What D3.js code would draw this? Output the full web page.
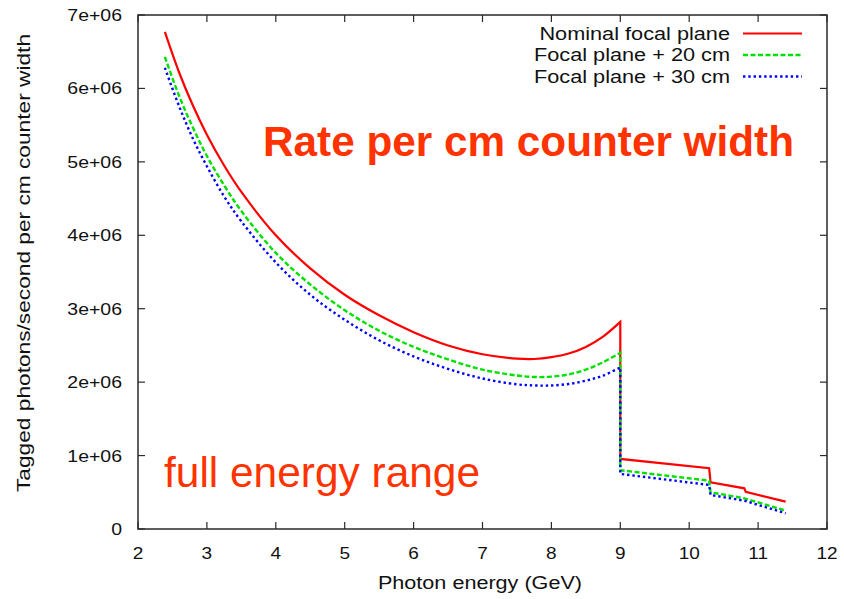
<!DOCTYPE html>
<html>
<head>
<meta charset="utf-8">
<script src="https://cdn.jsdelivr.net/npm/d3@7"></script>
<style>
  html, body { margin: 0; padding: 0; background: #fff; }
  svg { display: block; }
  text { font-family: "Liberation Sans", Arial, Helvetica, sans-serif; fill: #111; }
</style>
</head>
<body>
<svg id="chart" width="844" height="599"></svg>
<script>
// Axis ticks
const xTicks = [2, 3, 4, 5, 6, 7, 8, 9, 10, 11, 12];
const yTicks = [0, 1e6, 2e6, 3e6, 4e6, 5e6, 6e6, 7e6];
const yTickLabels = ["0", "1e+06", "2e+06", "3e+06", "4e+06", "5e+06", "6e+06", "7e+06"];

// Smooth part of each spectrum (photon energy in GeV, rate in photons/s per cm)
const energySmooth = [2.39, 2.6, 2.8, 3.0, 3.25, 3.5, 4.0, 4.5, 5.0, 5.5, 6.0, 6.5, 7.0, 7.5, 7.75, 8.0, 8.25, 8.5, 8.75, 9.0];
const rateSmoothNominal = [6.77e6, 6.21e6, 5.76e6, 5.37e6, 4.95e6, 4.59e6, 4.00e6, 3.55e6, 3.19e6, 2.91e6, 2.68e6, 2.50e6, 2.38e6, 2.32e6, 2.315e6, 2.34e6, 2.39e6, 2.48e6, 2.62e6, 2.82e6];
const rateSmooth20 = [6.43e6, 5.89e6, 5.46e6, 5.08e6, 4.68e6, 4.33e6, 3.76e6, 3.33e6, 2.98e6, 2.70e6, 2.48e6, 2.31e6, 2.17e6, 2.09e6, 2.07e6, 2.075e6, 2.105e6, 2.17e6, 2.27e6, 2.40e6];
const rateSmooth30 = [6.28e6, 5.75e6, 5.31e6, 4.94e6, 4.53e6, 4.19e6, 3.63e6, 3.19e6, 2.85e6, 2.57e6, 2.35e6, 2.18e6, 2.05e6, 1.97e6, 1.955e6, 1.955e6, 1.975e6, 2.02e6, 2.09e6, 2.20e6];

// Stepped part above 9 GeV
const energyTailNominal = [9.0, 10.29, 10.31, 10.80, 10.82, 11.40];
const rateTailNominal = [0.954e6, 0.827e6, 0.636e6, 0.554e6, 0.508e6, 0.372e6];

const energyTail20 = [9.0, 10.29, 10.31, 10.80, 11.40];
const rateTail20 = [0.80e6, 0.658e6, 0.50e6, 0.418e6, 0.25e6];

const energyTail30 = [9.0, 10.29, 10.31, 10.80, 11.40];
const rateTail30 = [0.75e6, 0.60e6, 0.463e6, 0.386e6, 0.214e6];

const seriesNames = ["Nominal focal plane", "Focal plane + 20 cm", "Focal plane + 30 cm"];

const zip = (xs, ys) => xs.map((v, i) => ({ e: v, r: ys[i] }));

const series = [
  { name: seriesNames[0], smooth: zip(energySmooth, rateSmoothNominal), tail: zip(energyTailNominal, rateTailNominal),
    color: "#ff0000", width: 2.2, dash: null },
  { name: seriesNames[1], smooth: zip(energySmooth, rateSmooth20), tail: zip(energyTail20, rateTail20),
    color: "#00e000", width: 2.4, dash: "5,2.5" },
  { name: seriesNames[2], smooth: zip(energySmooth, rateSmooth30), tail: zip(energyTail30, rateTail30),
    color: "#0000ff", width: 2.4, dash: "2.4,2.9" }
];

const svg = d3.select("#chart");
const plotLeft = 138, plotRight = 827, plotTop = 15, plotBottom = 529;

const x = d3.scaleLinear().domain([2, 12]).range([plotLeft, plotRight]);
const y = d3.scaleLinear().domain([0, 7e6]).range([plotBottom, plotTop]);

// Horizontally widen text the way the plot's fonts are drawn
function stretch(sel, k) {
  sel.each(function () {
    const w = this.getComputedTextLength();
    this.setAttribute("textLength", w * k);
    this.setAttribute("lengthAdjust", "spacingAndGlyphs");
  });
}

// Frame
svg.append("rect")
  .attr("x", plotLeft).attr("y", plotTop)
  .attr("width", plotRight - plotLeft).attr("height", plotBottom - plotTop)
  .attr("fill", "none").attr("stroke", "#2a2a2a").attr("stroke-width", 1.5);

const tickLen = 7;
const ticks = svg.append("g").attr("stroke", "#2a2a2a").attr("stroke-width", 1.2);
xTicks.forEach(t => {
  ticks.append("line").attr("x1", x(t)).attr("x2", x(t)).attr("y1", plotBottom).attr("y2", plotBottom - tickLen);
  ticks.append("line").attr("x1", x(t)).attr("x2", x(t)).attr("y1", plotTop).attr("y2", plotTop + tickLen);
});
yTicks.forEach(t => {
  ticks.append("line").attr("x1", plotLeft).attr("x2", plotLeft + tickLen).attr("y1", y(t)).attr("y2", y(t));
  ticks.append("line").attr("x1", plotRight).attr("x2", plotRight - tickLen).attr("y1", y(t)).attr("y2", y(t));
});

// Tick labels
const xLab = svg.append("g").selectAll("text").data(xTicks).join("text")
  .attr("x", d => x(d)).attr("y", 559)
  .attr("text-anchor", "middle").attr("font-size", 16.5)
  .text(d => d);
stretch(xLab, 1.15);

const yLab = svg.append("g").selectAll("text").data(yTicks).join("text")
  .attr("x", 122).attr("y", d => y(d) + 6)
  .attr("text-anchor", "end").attr("font-size", 16.5)
  .text((d, i) => yTickLabels[i]);
stretch(yLab, 1.18);

// Axis titles
const xTitle = svg.append("text")
  .attr("x", 480).attr("y", 589).attr("text-anchor", "middle").attr("font-size", 18)
  .text("Photon energy (GeV)");
stretch(xTitle, 1.2);

const yTitle = svg.append("text")
  .attr("transform", "translate(30,263) rotate(-90)")
  .attr("text-anchor", "middle").attr("font-size", 18)
  .text("Tagged photons/second per cm counter width");
yTitle.attr("textLength", 458).attr("lengthAdjust", "spacingAndGlyphs");

// Curves: smooth spectrum up to 9 GeV joined to the stepped tail
const smoothLine = d3.line().x(d => x(d.e)).y(d => y(d.r)).curve(d3.curveCatmullRom.alpha(0.5));
const tailLine = d3.line().x(d => x(d.e)).y(d => y(d.r));

series.forEach(s => {
  const path = smoothLine(s.smooth) + tailLine(s.tail).replace(/^M/, "L");
  svg.append("path")
    .attr("d", path)
    .attr("fill", "none")
    .attr("stroke", s.color)
    .attr("stroke-width", s.width)
    .attr("stroke-dasharray", s.dash)
    .attr("stroke-linejoin", "miter");
});

// Legend
const legendRows = [33.5, 55, 76.5];
series.forEach((s, i) => {
  const t = svg.append("text")
    .attr("x", 730).attr("y", legendRows[i] + 6)
    .attr("text-anchor", "end").attr("font-size", 17.5)
    .text(s.name);
  stretch(t, 1.24);
  svg.append("line")
    .attr("x1", 743).attr("x2", 802)
    .attr("y1", legendRows[i]).attr("y2", legendRows[i])
    .attr("stroke", s.color).attr("stroke-width", s.width)
    .attr("stroke-dasharray", s.dash);
});

// Annotations
svg.append("text")
  .attr("x", 263).attr("y", 156).attr("font-size", 43).attr("font-weight", "bold")
  .style("fill", "#ff3300")
  .attr("textLength", 531).attr("lengthAdjust", "spacingAndGlyphs")
  .text("Rate per cm counter width");

svg.append("text")
  .attr("x", 164).attr("y", 487).attr("font-size", 42)
  .style("fill", "#ff3300")
  .attr("textLength", 316).attr("lengthAdjust", "spacingAndGlyphs")
  .text("full energy range");
</script>
</body>
</html>
